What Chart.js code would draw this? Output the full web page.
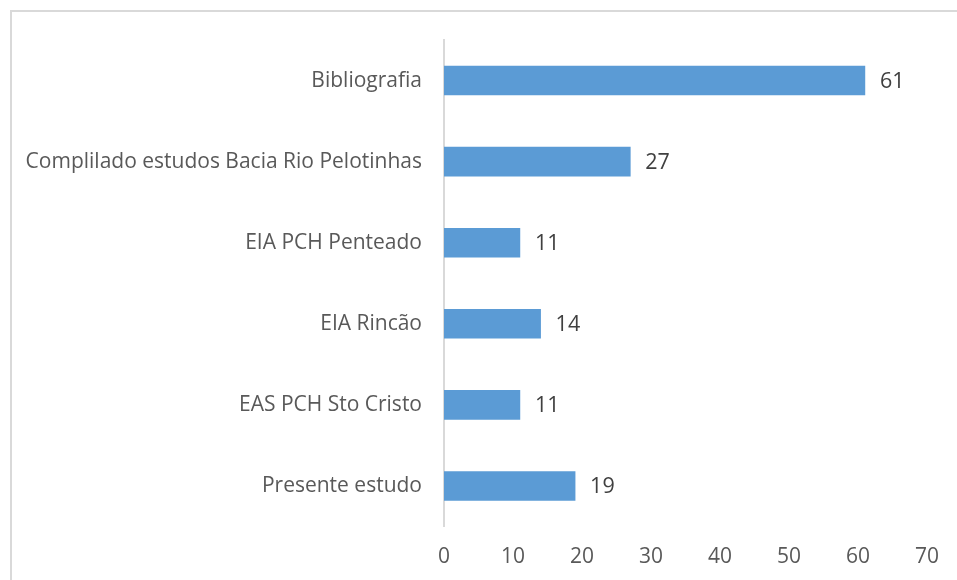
<!DOCTYPE html>
<html>
<head>
<meta charset="utf-8">
<script src="https://cdn.jsdelivr.net/npm/chart.js@4"></script>
<style>
  html, body { margin: 0; padding: 0; background: #ffffff; overflow: hidden; }
  #wrap { position: relative; width: 957px; height: 580px; }
  #frame { position: absolute; left: 10px; top: 10px; width: 1000px; height: 1000px;
           border: 2px solid #d9d9d9; box-sizing: border-box; pointer-events: none; }
  canvas { position: absolute; left: 0; top: 0; }
</style>
</head>
<body>
<div id="wrap">
  <canvas id="c" width="957" height="580"></canvas>
  <div id="frame"></div>
</div>
<script>
const categories = [
  "Bibliografia",
  "Complilado estudos Bacia Rio Pelotinhas",
  "EIA PCH Penteado",
  "EIA Rincão",
  "EAS PCH Sto Cristo",
  "Presente estudo"
];
const values = [61, 27, 11, 14, 11, 19];
const xTicks = [0, 10, 20, 30, 40, 50, 60, 70];

const FONT = "'Open Sans', sans-serif";

const valueLabels = {
  id: 'valueLabels',
  afterDatasetsDraw(chart) {
    const ctx = chart.ctx;
    const meta = chart.getDatasetMeta(0);
    ctx.save();
    ctx.font = "21.5px " + FONT;
    ctx.fillStyle = "#404040";
    ctx.textAlign = "left";
    ctx.textBaseline = "middle";
    meta.data.forEach((bar, i) => {
      ctx.fillText(String(values[i]), bar.x + 15, bar.y + 1);
    });
    ctx.restore();
  }
};

new Chart(document.getElementById('c'), {
  type: 'bar',
  data: {
    labels: categories,
    datasets: [{
      data: values,
      backgroundColor: '#5b9bd5',
      borderWidth: 0,
      barThickness: 29
    }]
  },
  options: {
    indexAxis: 'y',
    responsive: false,
    animation: false,
    devicePixelRatio: 1,
    layout: { padding: { left: 0, right: 24, top: 40, bottom: 0 } },
    plugins: { legend: { display: false }, tooltip: { enabled: false } },
    scales: {
      x: {
        min: 0, max: 70,
        afterBuildTicks(scale) { scale.ticks = xTicks.map(v => ({ value: v })); },
        afterFit(scale) { scale.height = 53.5; },
        grid: { display: false, drawTicks: false },
        border: { display: false },
        ticks: { color: '#595959', font: { family: FONT, size: 21 }, padding: 18 }
      },
      y: {
        afterFit(scale) { scale.width = 444; },
        grid: { display: false, drawTicks: false },
        border: { display: true, color: '#d9d9d9', width: 2 },
        ticks: { color: '#595959', font: { family: FONT, size: 21 }, padding: 22 }
      }
    }
  },
  plugins: [valueLabels]
});
</script>
</body>
</html>
